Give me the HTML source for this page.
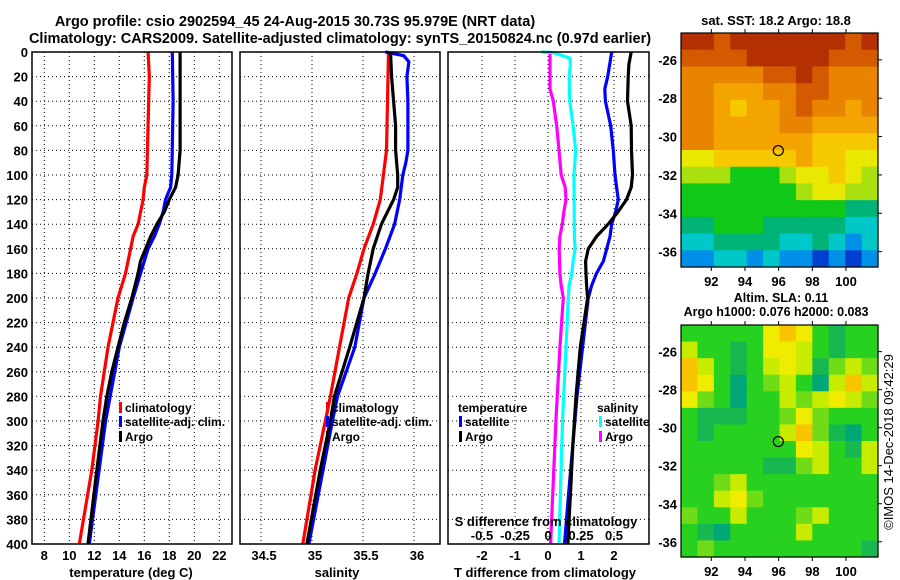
<!DOCTYPE html>
<html><head><meta charset="utf-8"><style>
html,body{margin:0;padding:0;background:#fff;}
svg{display:block;font-family:"Liberation Sans",Arial,sans-serif;font-weight:bold;}
</style></head><body>
<svg id="c" width="900" height="580" viewBox="0 0 900 580"></svg>
<script>
// ---- data ----
const depthTicks=[0,20,40,60,80,100,120,140,160,180,200,220,240,260,280,300,320,340,360,380,400];
const tTicks=[8,10,12,14,16,18,20,22];
const sTicks=[34.5,35,35.5,36];
const sTickLabels=["34.5","35","35.5","36"];
const dTTicks=[-2,-1,0,1,2];
const dSTicks=[-0.5,-0.25,0,0.25,0.5];
const dSTickLabels=["-0.5","-0.25","0","0.25","0.5"];

const tArgoDepth=[0,80,100,110,120,130,140,150,160,170,180,200,220,240,260,280,300,340,400];
const tArgo=[18.86,18.86,18.7,18.5,18.0,17.6,17.0,16.5,16.1,15.7,15.5,15.0,14.4,13.9,13.4,13.0,12.7,12.2,11.5];
const tSatDepth=[0,40,100,110,120,130,140,150,160,180,200,240,300,400];
const tSat=[18.24,18.3,18.2,18.1,17.7,17.5,17.2,16.8,16.3,15.7,15.1,14.0,12.9,11.6];
const tClimDepth=[0,20,100,110,120,140,150,160,180,200,240,280,300,340,400];
const tClim=[16.3,16.4,16.2,16.0,15.9,15.5,15.1,14.9,14.5,13.9,13.1,12.5,12.3,11.8,10.8];

const sClimDepth=[0,80,100,120,140,160,180,200,240,280,300,340,400];
const sClim=[35.75,35.73,35.70,35.67,35.60,35.51,35.44,35.36,35.27,35.18,35.13,35.03,34.91];
const sArgoDepth=[0,20,40,60,80,100,110,120,140,160,180,200,240,280,300,340,400];
const sArgo=[35.77,35.78,35.80,35.82,35.82,35.84,35.84,35.80,35.68,35.60,35.55,35.51,35.37,35.22,35.18,35.08,34.95];
const sSatDepth=[0,3,8,20,40,80,90,100,120,140,160,180,200,240,280,300,400];
const sSat=[35.72,35.9,35.95,35.93,35.94,35.94,35.92,35.89,35.86,35.81,35.72,35.62,35.51,35.42,35.25,35.2,34.97];

const dTArgoDepth=[0,10,20,40,60,80,100,110,120,130,140,150,160,170,180,190,200,240,280,320,360,400];
const dTArgo=[2.52,2.45,2.43,2.41,2.52,2.53,2.56,2.52,2.38,2.12,1.82,1.47,1.22,1.14,1.15,1.17,1.2,0.98,0.85,0.75,0.68,0.6];
const dTSatDepth=[0,20,30,40,60,80,100,110,120,130,140,150,160,170,180,190,200,240,280,320,360,400];
const dTSat=[1.93,1.81,1.72,1.74,1.9,1.98,2.03,2.08,2.13,2.05,1.93,1.88,1.78,1.68,1.47,1.32,1.22,1.05,0.88,0.75,0.62,0.5];
const dSArgoDepth=[0,30,40,60,80,100,110,120,130,140,150,160,180,190,200,240,300,400];
const dSArgo=[0.015,0.015,0.04,0.066,0.083,0.10,0.13,0.136,0.12,0.108,0.09,0.085,0.09,0.10,0.116,0.09,0.06,0.02];
const dSSatDepth=[0,0.5,5,10,20,40,60,80,100,150,160,170,180,190,200,240,300,400];
const dSSat=[-0.05,0.04,0.167,0.17,0.16,0.165,0.19,0.21,0.197,0.2,0.205,0.19,0.18,0.16,0.154,0.136,0.11,0.083];

const lonTicks=[92,94,96,98,100];
const latTicks=[-26,-28,-30,-32,-34,-36];
const argoLon=[95.979], argoLat=[-30.73];
const sstGrid=[
[9,9,8,9,9,9,9,9,9,9,8,9],
[8,8,8,8,9,9,9,9,9,8,8,8],
[7,7,7,7,7,8,8,9,8,7,7,7],
[7,7,6,6,6,7,7,8,8,7,7,7],
[7,7,6,5,6,6,7,8,7,7,6,7],
[7,7,6,6,6,6,7,7,6,6,6,6],
[7,7,6,6,6,6,6,6,5,5,5,5],
[4,4,5,5,5,5,5,6,5,5,4,4],
[3,3,3,2,2,2,3,4,4,5,4,3],
[2,2,2,2,2,2,2,3,4,4,3,3],
[2,2,2,2,2,2,2,2,2,2,1,1],
[1,1,2,2,2,1,1,1,1,1,0,0],
[0,0,1,1,1,1,0,0,1,0,-1,0],
[-1,-1,0,0,-1,0,-1,-1,-2,-1,-2,-1]];
const slaGrid=[
[2,2,2,2,2,5,6,5,2,1,2,2],
[4,2,2,1,2,5,5,4,2,1,2,2],
[6,4,2,1,2,4,5,4,1,3,4,3],
[6,5,2,0,2,3,4,2,0,4,6,4],
[5,3,2,0,2,2,4,3,4,5,4,3],
[2,1,1,1,2,2,3,5,3,2,2,2],
[2,1,2,2,2,2,4,6,3,1,0,2],
[2,2,2,2,2,2,2,5,4,2,1,4],
[2,2,2,2,2,1,1,3,4,2,2,4],
[2,2,3,4,2,2,2,2,2,2,2,2],
[2,2,4,5,3,2,2,2,2,2,2,2],
[3,2,2,4,2,2,2,3,4,2,2,2],
[2,1,0,2,2,2,2,4,2,2,2,2],
[2,3,2,2,2,2,2,2,2,2,2,1]];

// ---- drawing ----
const NS="http://www.w3.org/2000/svg";
const svg=document.getElementById('c');
function mk(tag,attrs,parent){const e=document.createElementNS(NS,tag);for(const k in attrs)e.setAttribute(k,attrs[k]);(parent||svg).appendChild(e);return e;}
function txt(x,y,s,size,anchor,parent){const t=mk('text',{x:x,y:y,'font-size':size,'text-anchor':anchor||'middle'},parent);t.textContent=s;return t;}

const Y0=52, YS=1.23;
const yD=d=>Y0+YS*d;
const xT=v=>44.3+12.5*(v-8);
const xS=v=>261+102*(v-34.5);
const xDT=v=>548+33*v;
const xDS=v=>548+132*v;

const panels=[{x0:32,x1:232,name:'temperature-panel'},{x0:240,x1:440,name:'salinity-panel'},{x0:448,x1:649,name:'difference-panel'}];

function gridV(p,xs,fn){xs.forEach(v=>{const l=mk('line',{x1:fn(v),x2:fn(v),y1:Y0,y2:yD(400),stroke:'#000','stroke-width':1,'stroke-dasharray':'1,3'});

});}
panels.forEach(p=>{
  depthTicks.forEach(d=>{if(d===0||d===400)return;const l=mk('line',{x1:p.x0,x2:p.x1,y1:yD(d),y2:yD(d),stroke:'#000','stroke-width':1,'stroke-dasharray':'1,3'});
  
  });
});
gridV(panels[0],tTicks,xT);gridV(panels[1],sTicks,xS);gridV(panels[2],dTTicks,xDT);

function series(ds,vs,fn,color,name){
  const pts=ds.map((d,i)=>fn(vs[i]).toFixed(1)+','+yD(d).toFixed(1)).join(' ');
  const pl=mk('polyline',{points:pts,fill:'none',stroke:color,'stroke-width':3.2,'stroke-linejoin':'round'});
  
  
}
series(tClimDepth,tClim,xT,'#f00','temperature-climatology-line');
series(tSatDepth,tSat,xT,'#00f','temperature-satellite-line');
series(tArgoDepth,tArgo,xT,'#000','temperature-argo-line');
series(sClimDepth,sClim,xS,'#f00','salinity-climatology-line');
series(sSatDepth,sSat,xS,'#00f','salinity-satellite-line');
series(sArgoDepth,sArgo,xS,'#000','salinity-argo-line');
series(dSArgoDepth,dSArgo,xDS,'#f0f','s-diff-argo-line');
series(dSSatDepth,dSSat,xDS,'#0ff','s-diff-satellite-line');
series(dTSatDepth,dTSat,xDT,'#00f','t-diff-satellite-line');
series(dTArgoDepth,dTArgo,xDT,'#000','t-diff-argo-line');

panels.forEach(p=>{const r=mk('rect',{x:p.x0,y:Y0,width:p.x1-p.x0,height:yD(400)-Y0,fill:'none',stroke:'#000','stroke-width':1.5});

});

// depth labels
depthTicks.forEach(d=>{const t=txt(28,yD(d)+5,String(d),13,'end');

});
tTicks.forEach(v=>{const t=txt(xT(v),560,String(v),13);

});
sTicks.forEach((v,i)=>{const t=txt(xS(v)+3,560,sTickLabels[i],13);

});
dTTicks.forEach(v=>{const t=txt(xDT(v),560,String(v),13);

});
dSTicks.forEach((v,i)=>{const t=txt(xDS(v),540,dSTickLabels[i],13);

});
[['temperature (deg C)',131,577,'temperature-axis-title'],['salinity',337,577,'salinity-axis-title'],['T difference from climatology',545,577,'t-diff-axis-title'],['S difference from climatology',546,526,'s-diff-axis-title']].forEach(a=>{
 const t=txt(a[1],a[2],a[0],13);});

// titles
let t1=txt(295,26,'Argo profile: csio 2902594_45 24-Aug-2015 30.73S 95.979E (NRT data)',14.5);


let t2=txt(340,43,'Climatology: CARS2009. Satellite-adjusted climatology: synTS_20150824.nc (0.97d earlier)',14.5);



// legends
function legend(x,y,color,label,name){
  const r=mk('rect',{x:x,y:y-10,width:3,height:11,fill:color});
  
  
  const t=txt(x+6,y,label,12,'start');
  
  
}
legend(119,412,'#f00','climatology','legend-climatology');
legend(119,426,'#00f','satellite-adj. clim.','legend-satellite-adj');
legend(119,441,'#000','Argo','legend-argo');
legend(326,412,'#f00','climatology','legend2-climatology');
legend(326,426,'#00f','satellite-adj. clim.','legend2-satellite-adj');
legend(326,441,'#000','Argo','legend2-argo');
let lt=txt(458,412,'temperature',12,'start');
legend(459,426,'#00f','satellite','legend-t-satellite');
legend(459,441,'#000','Argo','legend-t-argo');
let ls=txt(597,412,'salinity',12,'start');
legend(599,426,'#0ff','satellite','legend-s-satellite');
legend(599,441,'#f0f','Argo','legend-s-argo');

// maps
const sstColors={'9':'#b43000','8':'#d45a00','7':'#e88400','6':'#f3a400','5':'#f6c800','4':'#e8e800','3':'#a8e010','2':'#10c818','1':'#00b478','0':'#00c8c8','-1':'#0090e8','-2':'#0040d0'};
const slaColors={'0':'#00a878','1':'#18b850','2':'#28d020','3':'#70dc18','4':'#c8ec00','5':'#f0ec00','6':'#f8c400'};
const LON0=90.2,LON1=101.9,LAT0=-24.6,LAT1=-36.8;
function drawMap(mx0,my0,mx1,my1,grid,colors,name,title){
  const g=mk('g',{});
  
  
  const rows=grid.length,cols=grid[0].length,cw=(mx1-mx0)/cols,ch=(my1-my0)/rows;
  grid.forEach((row,r)=>row.forEach((v,c)=>{
    const cell=mk('rect',{x:mx0+c*cw,y:my0+r*ch,width:cw+0.6,height:ch+0.6,fill:colors[String(v)]},g);
    
    
  }));
  const lx=v=>mx0+(v-LON0)/(LON1-LON0)*(mx1-mx0);
  const ly=v=>my0+(v-LAT0)/(LAT1-LAT0)*(my1-my0);
  const fr=mk('rect',{x:mx0,y:my0,width:mx1-mx0,height:my1-my0,fill:'none',stroke:'#000','stroke-width':1.2},g);
  
  
  lonTicks.forEach(v=>{mk('line',{x1:lx(v),x2:lx(v),y1:my1,y2:my1+4,stroke:'#000'},g);mk('line',{x1:lx(v),x2:lx(v),y1:my0,y2:my0-4,stroke:'#000'},g);
    const t=txt(lx(v),my1+19,String(v),13,'middle',g);});
  latTicks.forEach(v=>{mk('line',{x1:mx1,x2:mx1+4,y1:ly(v),y2:ly(v),stroke:'#000'},g);
    const t=txt(mx0-4,ly(v)+5,String(v),13,'end',g);});
  argoLon.forEach((lo,i)=>{const c=mk('circle',{cx:lx(lo),cy:ly(argoLat[i]),r:5,fill:'none',stroke:'#000','stroke-width':1.2},g);
    });
}
drawMap(681,33,878,267,sstGrid,sstColors,'sst-map');
drawMap(681,325,878,557,slaGrid,slaColors,'sla-map');
// white panel behind lat labels overlapping? (labels sit between panels)
let m1=txt(776,25,'sat. SST: 18.2 Argo: 18.8',13);
let m2=txt(781,302,'Altim. SLA: 0.11',12.5);
let m3=txt(776,316,'Argo h1000: 0.076 h2000: 0.083',12.5);
let cp=mk('text',{x:0,y:0,'font-size':13,'font-weight':'normal','text-anchor':'middle',transform:'translate(893,442) rotate(-90)'});
cp.textContent='©IMOS 14-Dec-2018 09:42:29';


</script>
</body></html>
